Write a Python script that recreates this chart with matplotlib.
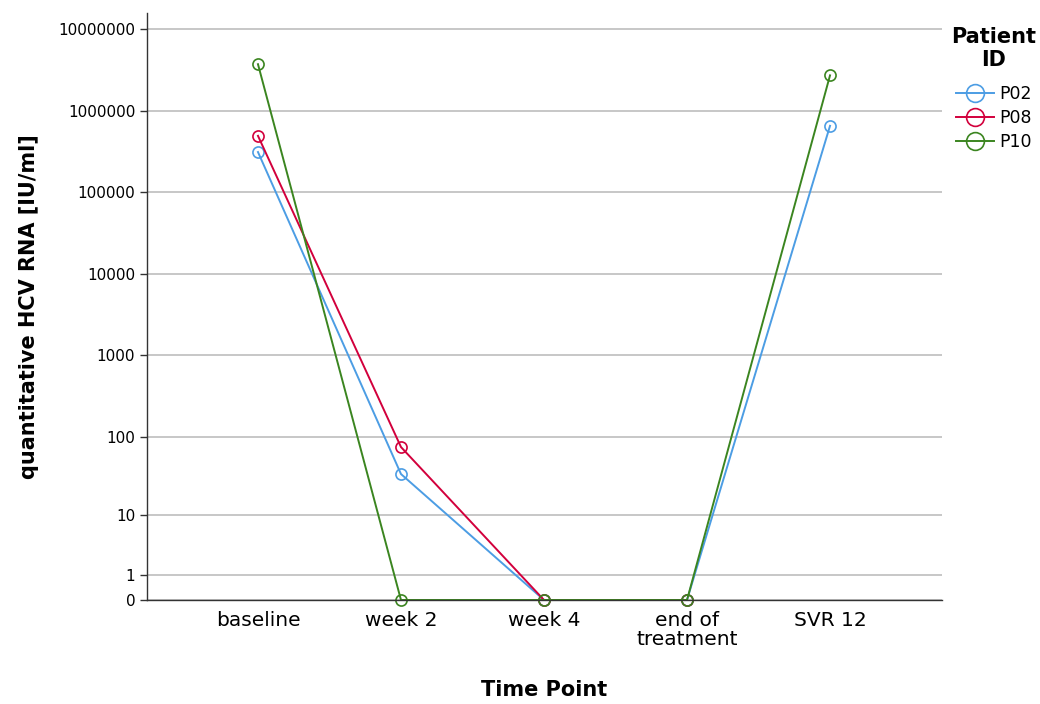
import numpy as np
import matplotlib.pyplot as plt

time_points = ["baseline", "week 2", "week 4", "end of\ntreatment", "SVR 12"]
p02 = [310000, 34, 0, 0, 650000]
p08 = [490000, 74, 0, 0, np.nan]
p10 = [3700000, 0, 0, 0, 2700000]
y_ticks = [0, 1, 10, 100, 1000, 10000, 100000, 1000000, 10000000]

series = {"P02": (p02, "#4c9de4"), "P08": (p08, "#d2003c"), "P10": (p10, "#3b8520")}


def fwd(v):
    return np.log10(np.clip(v, 0, None) + 1)


def inv(v):
    return 10 ** v - 1


fig = plt.figure(figsize=(10.4, 7.04), dpi=100)
ax = fig.add_axes([147 / 1040, 1 - 600 / 704, (942 - 147) / 1040, (600 - 13) / 704])

x = np.arange(len(time_points))
for name, (vals, col) in series.items():
    ax.plot(x, vals, color=col, lw=1.4, marker="o", markersize=8,
            markerfacecolor="none", markeredgecolor=col, markeredgewidth=1.2,
            label=name, clip_on=False)

ax.set_yscale("function", functions=(fwd, inv))
ax.set_ylim(0, inv(7.196))
ax.set_xlim(-0.776, 4.783)
ax.set_yticks(y_ticks)
ax.set_yticklabels([str(t) for t in y_ticks], fontsize=11)
ax.minorticks_off()
ax.set_xticks(x)
ax.set_xticklabels(time_points, fontsize=14.5, linespacing=1.0)
ax.tick_params(axis="x", length=0, pad=8)
ax.tick_params(axis="y", length=5, width=1, color="#333333")
ax.grid(axis="y", color="#bdbdbd", lw=1.2)
ax.set_axisbelow(True)
for s in ["top", "right"]:
    ax.spines[s].set_visible(False)
for s in ["left", "bottom"]:
    ax.spines[s].set_color("#333333")
    ax.spines[s].set_linewidth(1.0)

ax.set_ylabel("quantitative HCV RNA [IU/ml]", fontsize=15, fontweight="bold", labelpad=14)
ax.set_xlabel("Time Point", fontsize=15, fontweight="bold", labelpad=22)

# legend title drawn separately so its spacing can match
fig.text(994 / 1040, 1 - 27 / 704, "Patient\nID", ha="center", va="top",
         fontsize=15, fontweight="bold", linespacing=1.2, multialignment="center")
leg = fig.legend(loc="upper center", bbox_to_anchor=(994 / 1040, 1 - 73 / 704),
                 frameon=False, fontsize=12.5,
                 handlelength=2.2, handletextpad=0.3, labelspacing=0.35,
                 markerscale=1.6, borderpad=0.2)

fig.savefig("out.png", dpi=100)
